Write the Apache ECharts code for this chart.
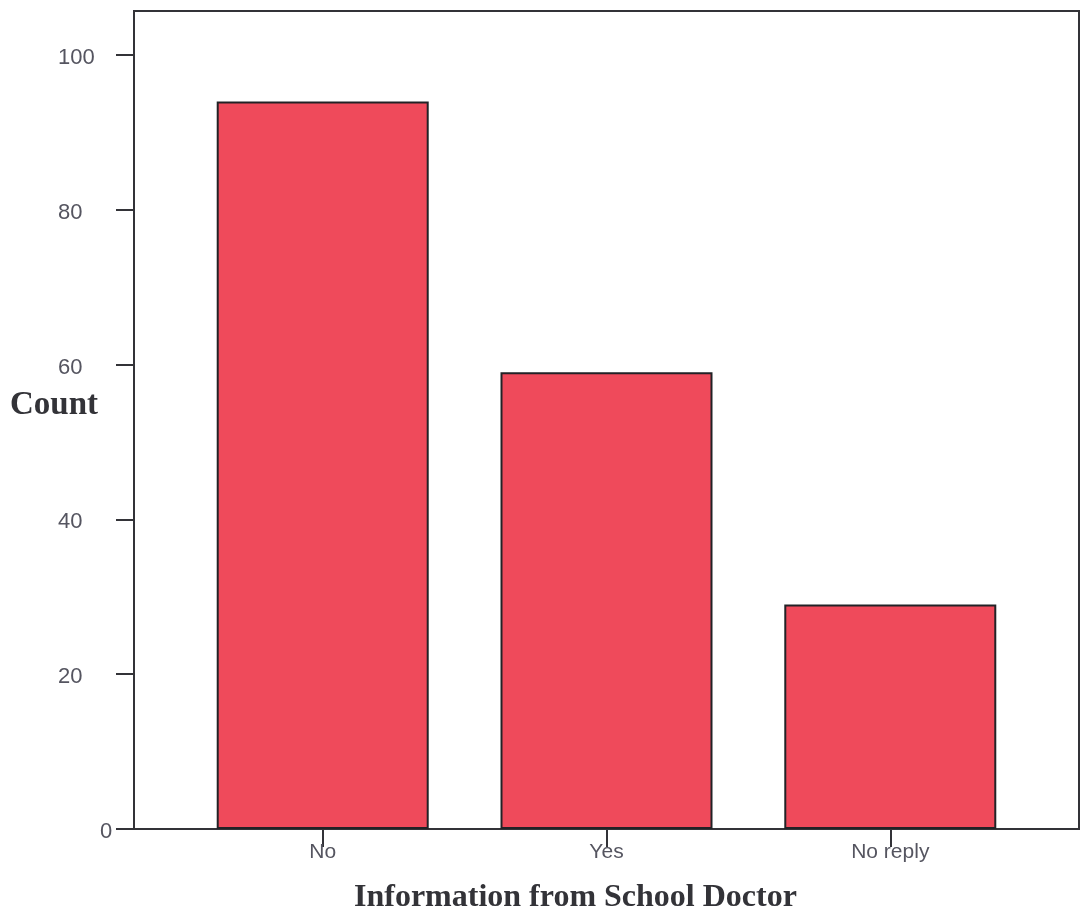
<!DOCTYPE html>
<html>
<head>
<meta charset="utf-8">
<script src="https://cdn.jsdelivr.net/npm/echarts@6/dist/echarts.min.js"></script>
<style>
html,body{margin:0;padding:0;background:#fff;}
#chart{width:1081px;height:920px;}
</style>
</head>
<body>
<div id="chart"></div>
<script>
const categories = ['No', 'Yes', 'No reply'];
const counts = [94, 59, 29];
const yTicks = [0, 20, 40, 60, 80, 100];
const yTitle = 'Count';
const xTitle = 'Information from School Doctor';

const chart = echarts.init(document.getElementById('chart'));
const catIdx = categories.map((c, i) => i);
chart.setOption({
  animation: false,
  backgroundColor: '#ffffff',
  grid: {
    left: 134, right: 2, top: 11, bottom: 91,
    show: true, borderColor: '#333338', borderWidth: 2, backgroundColor: 'transparent'
  },
  xAxis: {
    type: 'value',
    min: -0.665, max: 2.665,
    splitLine: { show: false },
    axisLine: { show: true, onZero: false, lineStyle: { color: '#333338', width: 2 } },
    axisTick: { show: true, customValues: catIdx, length: 18, inside: false,
                lineStyle: { color: '#333338', width: 2 } },
    axisLabel: {
      customValues: catIdx,
      formatter: v => categories[Math.round(v)],
      fontFamily: 'Liberation Sans, Arial, sans-serif',
      fontSize: 21, color: '#555560', margin: 13
    }
  },
  yAxis: {
    type: 'value',
    min: 0, max: 105.68,
    splitLine: { show: false },
    axisLine: { show: true, onZero: false, lineStyle: { color: '#333338', width: 2 } },
    axisTick: { show: true, customValues: yTicks, length: 18,
                lineStyle: { color: '#333338', width: 2 } },
    axisLabel: {
      customValues: yTicks,
      align: 'left',
      margin: 76,
      formatter: v => (v === 0 ? '{z|' + v + '}' : '{a|' + v + '}'),
      rich: {
        a: { fontFamily: 'Liberation Sans, Arial, sans-serif', fontSize: 22, color: '#555560', padding: [6, 0, 0, 0] },
        z: { fontFamily: 'Liberation Sans, Arial, sans-serif', fontSize: 22, color: '#555560', padding: [6, 0, 0, 42] }
      }
    }
  },
  graphic: [
    { type: 'text', left: 10, top: 389,
      style: { text: yTitle, font: 'bold 33px "Liberation Serif", "Times New Roman", serif', fill: '#333338' } },
    { type: 'text', left: 354, top: 882,
      style: { text: xTitle, font: 'bold 32px "Liberation Serif", "Times New Roman", serif', fill: '#333338' } }
  ],
  series: [{
    type: 'bar',
    barWidth: 212,
    data: counts.map((v, i) => [catIdx[i], v]),
    itemStyle: { color: '#ef4a5b', borderColor: '#222226', borderWidth: 2 }
  }]
});
</script>
</body>
</html>
